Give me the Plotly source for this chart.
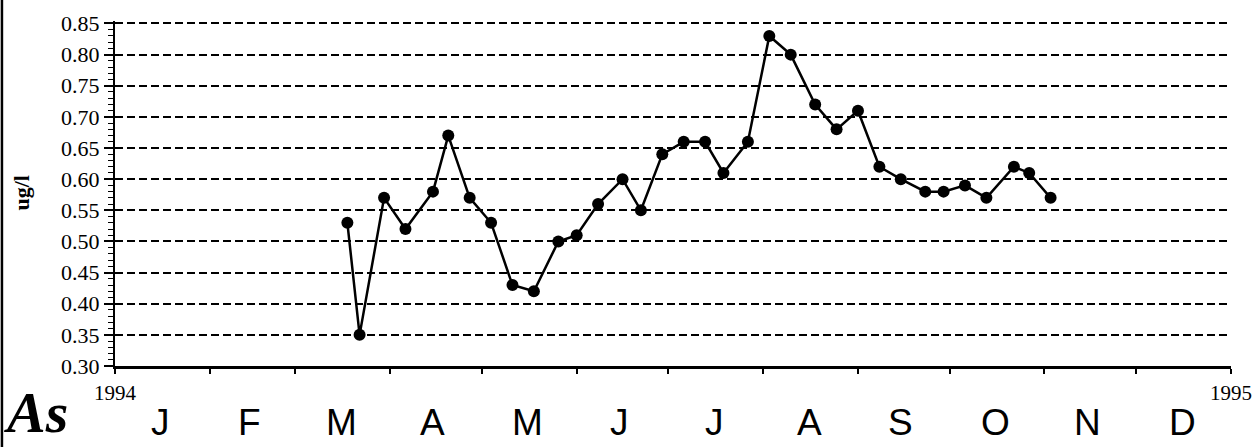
import plotly.graph_objects as go

dates = ["1994-03-18", "1994-03-22", "1994-03-30", "1994-04-06", "1994-04-15",
         "1994-04-20", "1994-04-27", "1994-05-04", "1994-05-11", "1994-05-18",
         "1994-05-26", "1994-06-01", "1994-06-08", "1994-06-16", "1994-06-22",
         "1994-06-29", "1994-07-06", "1994-07-13", "1994-07-19", "1994-07-27",
         "1994-08-03", "1994-08-10", "1994-08-18", "1994-08-25", "1994-09-01",
         "1994-09-08", "1994-09-15", "1994-09-23", "1994-09-29", "1994-10-06",
         "1994-10-13", "1994-10-22", "1994-10-27", "1994-11-03"]
values = [0.53, 0.35, 0.57, 0.52, 0.58,
          0.67, 0.57, 0.53, 0.43, 0.42,
          0.50, 0.51, 0.56, 0.60, 0.55,
          0.64, 0.66, 0.66, 0.61, 0.66,
          0.83, 0.80, 0.72, 0.68, 0.71,
          0.62, 0.60, 0.58, 0.58, 0.59,
          0.57, 0.62, 0.61, 0.57]

month_starts = ["1994-01-01", "1994-02-01", "1994-03-01", "1994-04-01", "1994-05-01",
                "1994-06-01", "1994-07-01", "1994-08-01", "1994-09-01", "1994-10-01",
                "1994-11-01", "1994-12-01", "1995-01-01"]
month_mids = ["1994-01-16", "1994-02-14", "1994-03-16", "1994-04-15", "1994-05-16",
              "1994-06-15", "1994-07-16", "1994-08-16", "1994-09-15", "1994-10-16",
              "1994-11-15", "1994-12-16"]
month_letters = ["J", "F", "M", "A", "M", "J", "J", "A", "S", "O", "N", "D"]
year_labels = ["1994", "1995"]
year_positions = ["1994-01-01", "1995-01-01"]
y_ticks = [0.30, 0.35, 0.40, 0.45, 0.50, 0.55, 0.60, 0.65, 0.70, 0.75, 0.80, 0.85]
element = "As"
y_title = "ug/l"

fig = go.Figure()
fig.add_trace(go.Scatter(
    x=dates, y=values, mode="lines+markers",
    line=dict(color="black", width=2.5),
    marker=dict(color="black", size=12),
    showlegend=False,
))

serif = "Liberation Serif"
sans = "Liberation Sans"

annotations = []
for m, l in zip(month_mids, month_letters):
    annotations.append(dict(x=m, y=-0.163, xref="x", yref="paper", text=l,
                            showarrow=False, yanchor="middle",
                            font=dict(family=sans, size=37, color="black")))
for yl, yp in zip(year_labels, year_positions):
    annotations.append(dict(x=yp, y=-0.078, xref="x", yref="paper", text=yl,
                            showarrow=False, yanchor="middle",
                            font=dict(family=serif, size=21, color="black")))
annotations.append(dict(x=0, y=0, xref="paper", yref="paper",
                        text="<b><i>" + element + "</i></b>", showarrow=False,
                        xanchor="left", yanchor="top", xshift=-113, yshift=-12,
                        font=dict(family=serif, size=58, color="black")))
annotations.append(dict(x=0, y=0.5, xref="paper", yref="paper",
                        text="<b>" + y_title + "</b>", showarrow=False, textangle=-90,
                        xanchor="center", yanchor="middle", xshift=-94, yshift=0,
                        font=dict(family=serif, size=22, color="black")))

fig.update_layout(
    width=1258, height=447,
    margin=dict(l=115, r=27, t=21, b=81),
    paper_bgcolor="white", plot_bgcolor="white",
    annotations=annotations,
    shapes=[dict(type="line", xref="paper", yref="paper", x0=-0.1013, x1=-0.1013,
                 y0=-0.25, y1=1.07, line=dict(color="black", width=2.5))],
)
fig.update_xaxes(
    type="date", range=["1994-01-01", "1995-01-01"],
    tickvals=month_starts, ticktext=[""] * len(month_starts),
    ticks="outside", ticklen=5, tickwidth=1.5, tickcolor="black",
    showline=True, linecolor="black", linewidth=2.5,
    showgrid=False, zeroline=False,
)
fig.update_yaxes(
    range=[0.30, 0.854], tickvals=y_ticks,
    ticktext=["%.2f" % v for v in y_ticks],
    ticks="outside", ticklen=9, tickwidth=1.5, tickcolor="black",
    tickfont=dict(family=serif, size=22, color="black"),
    showline=True, linecolor="black", linewidth=2,
    showgrid=True, gridcolor="black", gridwidth=2, griddash="8px,4px",
    minor=dict(dtick=0.01, tick0=0.30, ticks="outside", ticklen=5,
               tickcolor="black", tickwidth=1, showgrid=False),
    zeroline=False,
)

fig.write_html("out.html", config={"displayModeBar": False},
               post_script="document.body.style.margin='0';")
